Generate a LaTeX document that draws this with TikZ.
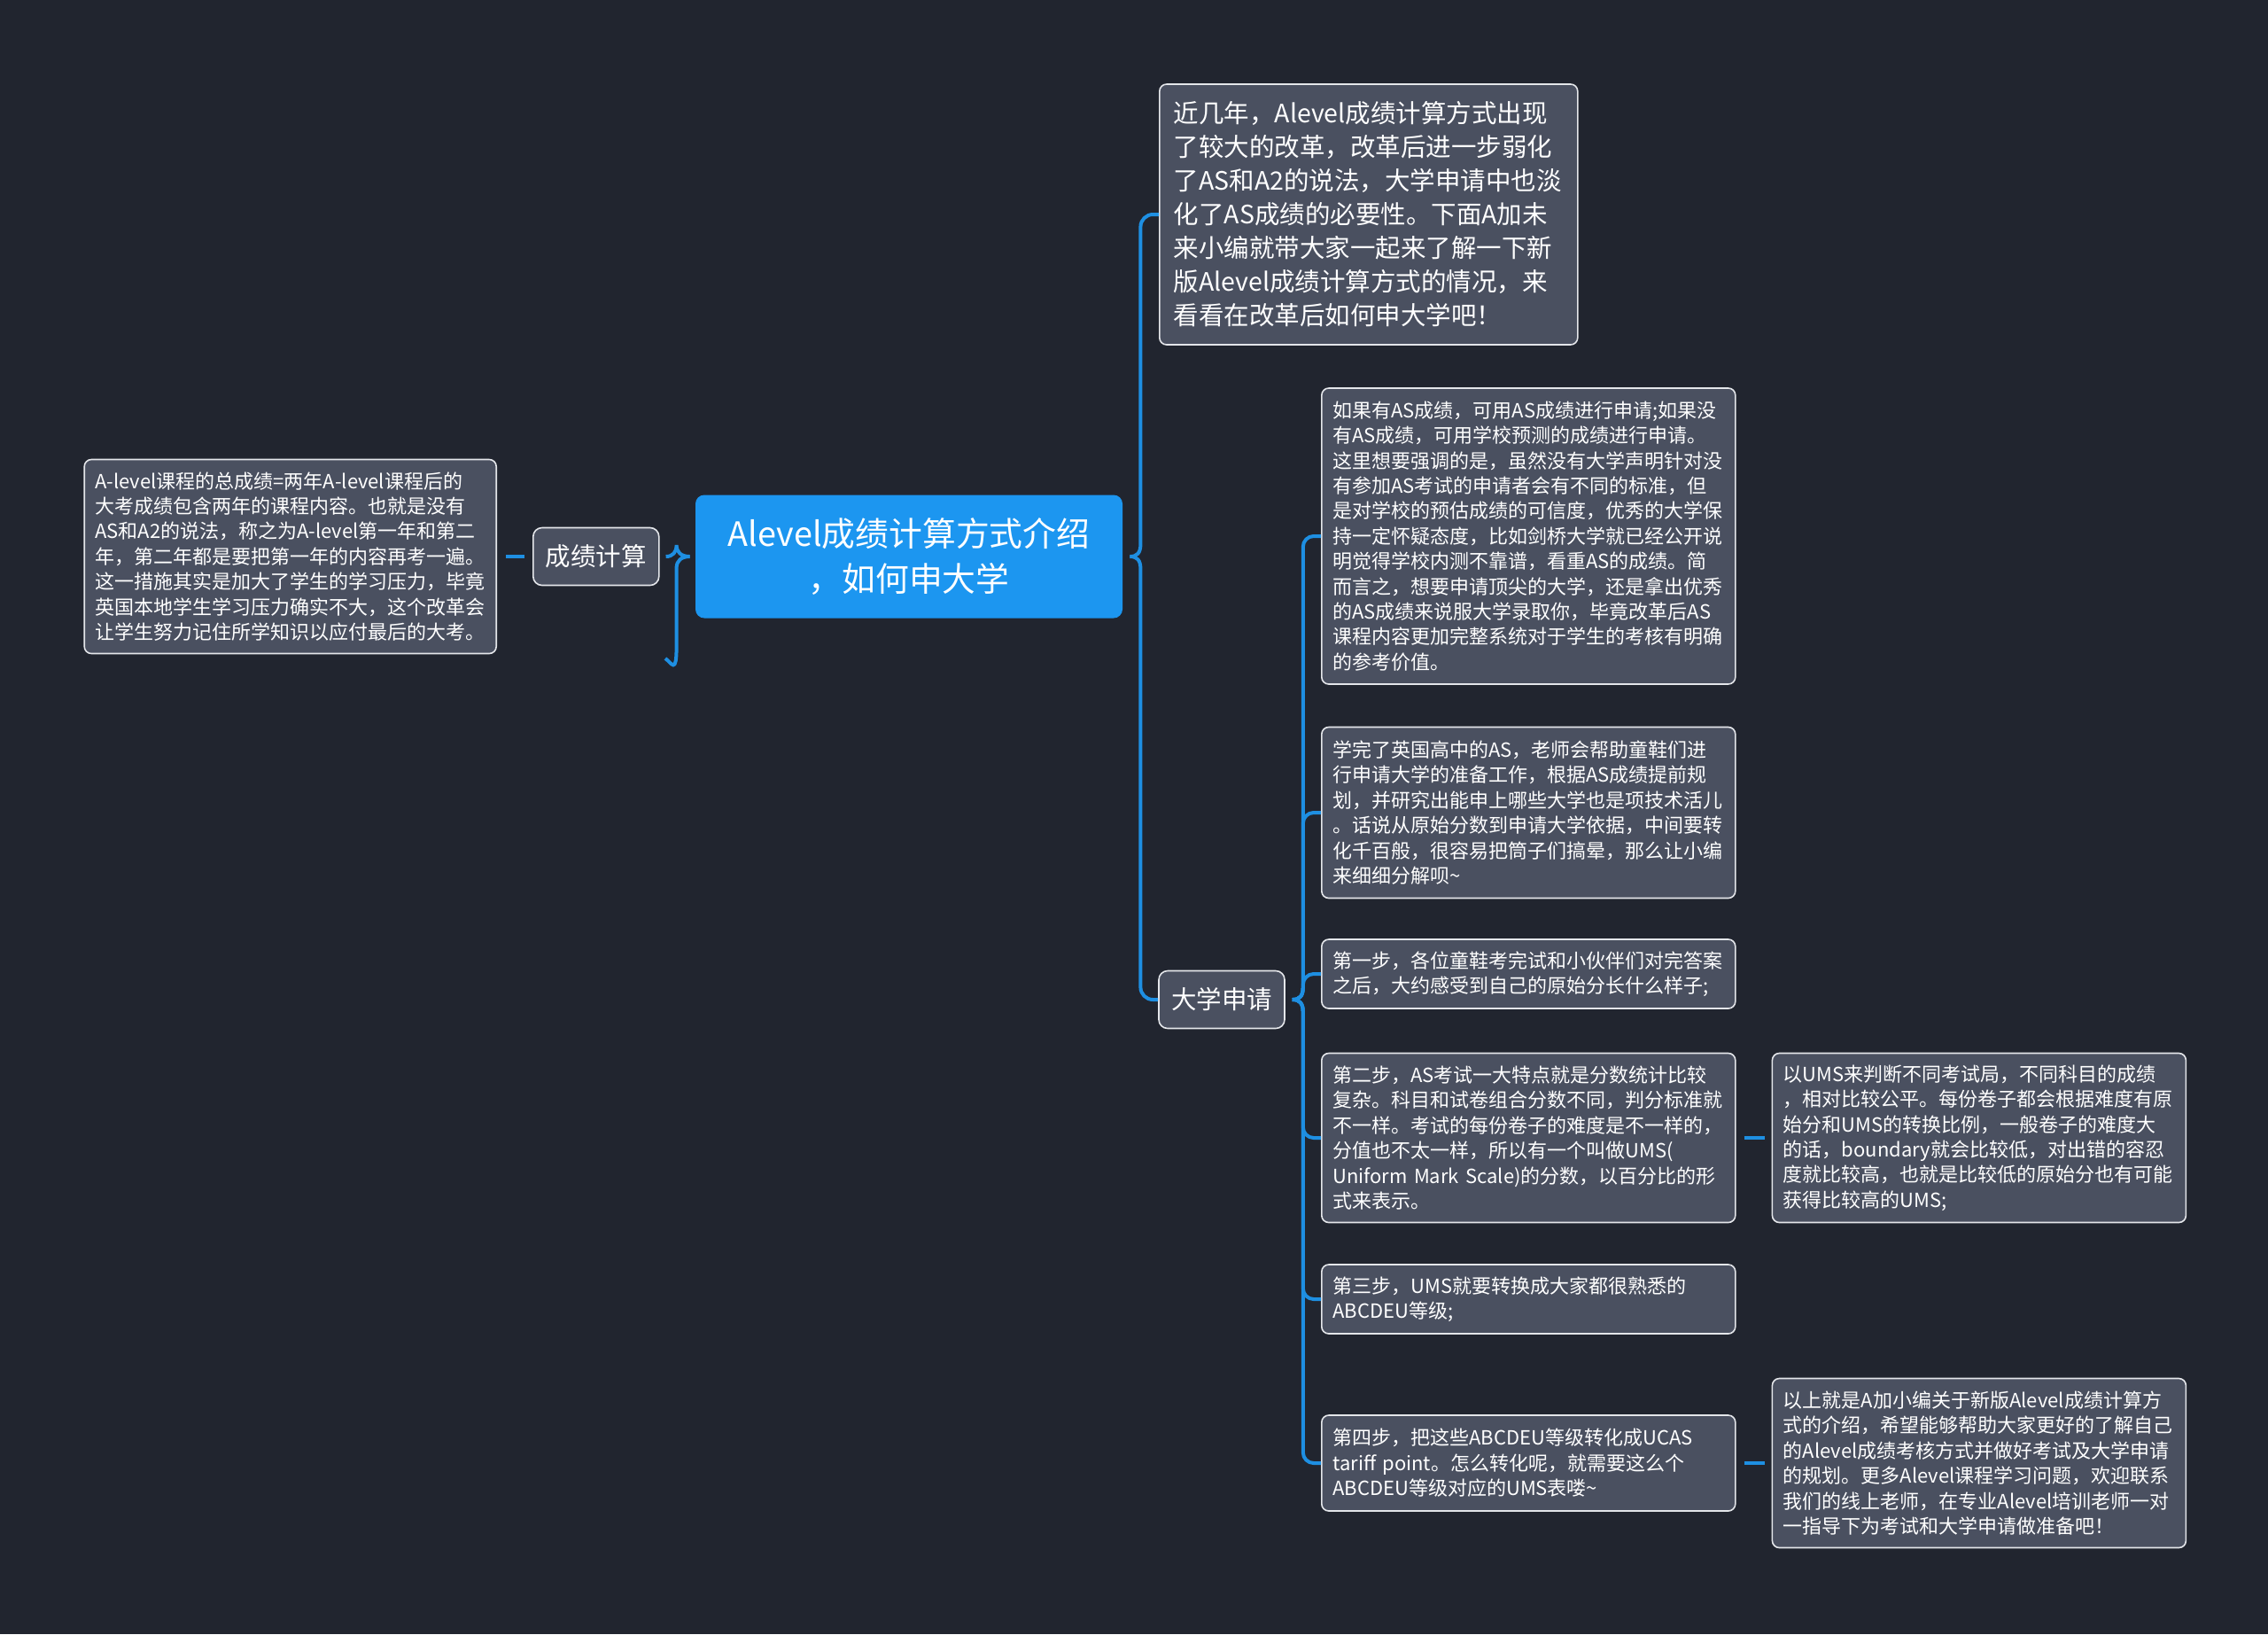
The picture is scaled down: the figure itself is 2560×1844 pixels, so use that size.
\documentclass[tikz,border=0pt]{standalone}
\usepackage{fontspec}
\setmainfont{Noto Sans CJK SC}
\usetikzlibrary{positioning}
\definecolor{bgnavy}{RGB}{33,37,47}
\definecolor{boxgray}{RGB}{74,80,96}
\definecolor{edgegray}{RGB}{228,230,234}
\definecolor{topicblue}{RGB}{28,150,240}
\definecolor{linkblue}{RGB}{30,143,226}
\begin{document}
\begin{tikzpicture}[x=0.5pt, y=-0.5pt, node distance=20pt,
    link/.style = {draw=linkblue, line width=2pt},
    topic/.style = {fill=topicblue, rounded corners=5pt, text=white, align=center, minimum width=241pt, minimum height=69.5pt, font=\fontsize{18.9pt}{25.3pt}\selectfont},
    branch/.style = {draw=edgegray, line width=0.8pt, fill=boxgray, rounded corners=5pt, text=white, minimum width=71pt, minimum height=32.5pt, font=\fontsize{14.25pt}{19pt}\selectfont},
    note/.style = {draw=edgegray, line width=0.8pt, fill=boxgray, rounded corners=4pt, text=white, anchor=west, align=left, text width=221pt, inner xsep=6.25pt, inner ysep=4pt, font=\fontsize{11pt}{14.2pt}\selectfont},
    bignote/.style = {note, text width=220pt, inner xsep=8pt, font=\fontsize{14.25pt}{19pt}\selectfont}]
    \path[use as bounding box, fill=bgnavy] (0,0) rectangle (2560,1844);
    \node[topic] (central) at (1026,628) {Alevel成绩计算方式介绍\\，如何申大学};
    \node[branch] (chengji) [left=of central] {成绩计算};
    \node[note, left=of chengji, text width=220.5pt, inner xsep=6pt, minimum height=109.5pt] (leftbox) {A-level课程的总成绩=两年A-level课程后的\\
大考成绩包含两年的课程内容。也就是没有\\
AS和A2的说法，称之为A-level第一年和第二\\
年，第二年都是要把第一年的内容再考一遍。\\
这一措施其实是加大了学生的学习压力，毕竟\\
英国本地学生学习压力确实不大，这个改革会\\
让学生努力记住所学知识以应付最后的大考。};
    \node[branch] (daxue) at (1379,1128) {大学申请};
    \node[bignote, minimum height=147pt] (intro) at (1308,242) {近几年，Alevel成绩计算方式出现\\
了较大的改革，改革后进一步弱化\\
了AS和A2的说法，大学申请中也淡\\
化了AS成绩的必要性。下面A加未\\
来小编就带大家一起来了解一下新\\
版Alevel成绩计算方式的情况，来\\
看看在改革后如何申大学吧！};
    \node[note, minimum height=167pt] (as) at (1491,605) {如果有AS成绩，可用AS成绩进行申请;如果没\\
有AS成绩，可用学校预测的成绩进行申请。\\
这里想要强调的是，虽然没有大学声明针对没\\
有参加AS考试的申请者会有不同的标准，但\\
是对学校的预估成绩的可信度，优秀的大学保\\
持一定怀疑态度，比如剑桥大学就已经公开说\\
明觉得学校内测不靠谱，看重AS的成绩。简\\
而言之，想要申请顶尖的大学，还是拿出优秀\\
的AS成绩来说服大学录取你，毕竟改革后AS\\
课程内容更加完整系统对于学生的考核有明确\\
的参考价值。};
    \node[note, minimum height=96.5pt] (xuewan) at (1491,917) {学完了英国高中的AS，老师会帮助童鞋们进\\
行申请大学的准备工作，根据AS成绩提前规\\
划，并研究出能申上哪些大学也是项技术活儿\\
。话说从原始分数到申请大学依据，中间要转\\
化千百般，很容易把筒子们搞晕，那么让小编\\
来细细分解呗\textasciitilde};
    \node[note, minimum height=39pt] (step1) at (1491,1099) {第一步，各位童鞋考完试和小伙伴们对完答案\\
之后，大约感受到自己的原始分长什么样子;};
    \node[note, minimum height=95.5pt] (step2) at (1491,1284) {第二步，AS考试一大特点就是分数统计比较\\
复杂。科目和试卷组合分数不同，判分标准就\\
不一样。考试的每份卷子的难度是不一样的，\\
分值也不太一样，所以有一个叫做UMS(\\
Uniform~Mark~Scale)的分数，以百分比的形\\
式来表示。};
    \node[note, minimum height=39pt] (step3) at (1491,1466) {第三步，UMS就要转换成大家都很熟悉的\\
ABCDEU等级;};
    \node[note, minimum height=54pt] (step4) at (1491,1651) {第四步，把这些ABCDEU等级转化成UCAS\\
tariff~point。怎么转化呢，就需要这么个\\
ABCDEU等级对应的UMS表喽\textasciitilde};
    \node[note, minimum height=95.5pt] (ums) [right=of step2] {以UMS来判断不同考试局，不同科目的成绩\\
，相对比较公平。每份卷子都会根据难度有原\\
始分和UMS的转换比例，一般卷子的难度大\\
的话，boundary就会比较低，对出错的容忍\\
度就比较高，也就是比较低的原始分也有可能\\
获得比较高的UMS;};
    \node[note, minimum height=95.5pt] (summary) [right=of step4] {以上就是A加小编关于新版Alevel成绩计算方\\
式的介绍，希望能够帮助大家更好的了解自己\\
的Alevel成绩考核方式并做好考试及大学申请\\
的规划。更多Alevel课程学习问题，欢迎联系\\
我们的线上老师，在专业Alevel培训老师一对\\
一指导下为考试和大学申请做准备吧！};
    \coordinate (blank) at (751,743);
    % left of the topic
    \draw[link] ([xshift=-3pt]central.west) .. controls +(-10,0) and +(0,8) .. ++(-15,-13) .. controls +(0,8) and +(8,0) .. ([xshift=3.5pt]chengji.east);
    \draw[link] ([xshift=-3pt]central.west) .. controls +(-10,0) and +(0,-8) .. ++(-15,13) -- ++(0,89) .. controls +(0,32) and +(7,5) .. (blank);
    \draw[link] ([xshift=-4.5pt]chengji.west) -- ([xshift=5pt]leftbox.east);
    % right of the topic
    \draw[link] (central.east) ++(8,0) .. controls +(8,0) and +(0,10) .. ++(12,-14) [rounded corners=7pt] |- (intro.west);
    \draw[link] (central.east) ++(8,0) .. controls +(8,0) and +(0,-10) .. ++(12,14) [rounded corners=7pt] |- (daxue.west);
    % under daxue
    \draw[link] (daxue.east) ++(8,0) .. controls +(8,0) and +(0,10) .. ++(12,-14) [rounded corners=6pt] |- (as.west);
    \draw[link] (daxue.east) ++(8,0) .. controls +(8,0) and +(0,10) .. ++(12,-14) [rounded corners=6pt] |- (xuewan.west);
    \draw[link] (daxue.east) ++(8,0) .. controls +(8,0) and +(0,10) .. ++(12,-14) [rounded corners=6pt] |- (step1.west);
    \draw[link] (daxue.east) ++(8,0) .. controls +(8,0) and +(0,-10) .. ++(12,14) [rounded corners=6pt] |- (step2.west);
    \draw[link] (daxue.east) ++(8,0) .. controls +(8,0) and +(0,-10) .. ++(12,14) [rounded corners=6pt] |- (step3.west);
    \draw[link] (daxue.east) ++(8,0) .. controls +(8,0) and +(0,-10) .. ++(12,14) [rounded corners=6pt] |- (step4.west);
    \draw[link] ([xshift=4.5pt]step2.east) -- ([xshift=-4pt]ums.west);
    \draw[link] ([xshift=4.5pt]step4.east) -- ([xshift=-4pt]summary.west);
\end{tikzpicture}
\end{document}
